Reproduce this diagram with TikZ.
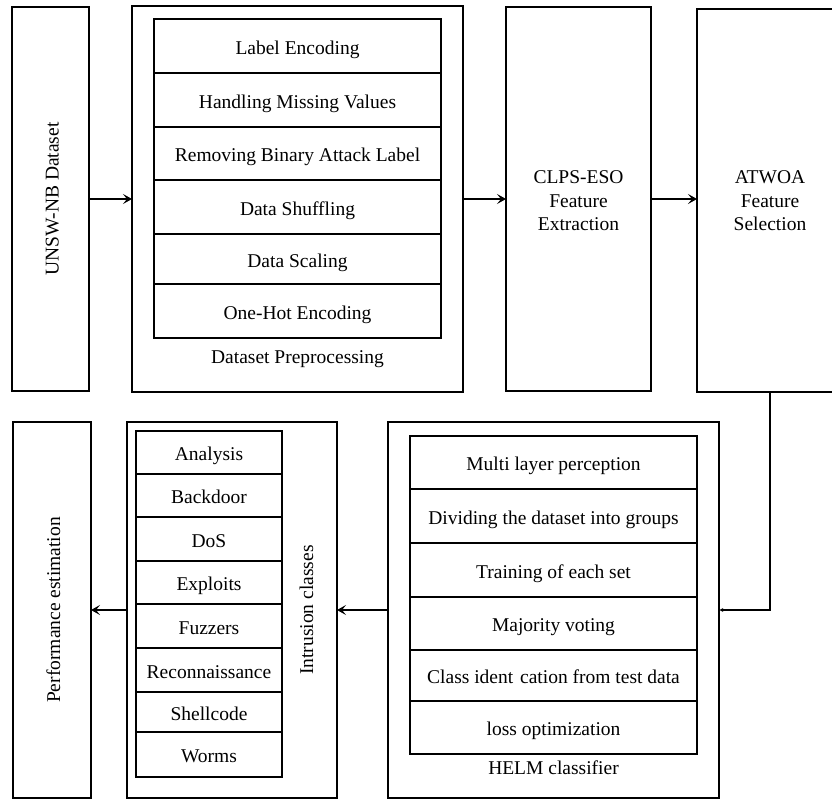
\documentclass[tikz,border=0pt]{standalone}
\usepackage{fontspec}
\setmainfont{Liberation Serif}
\usetikzlibrary{arrows.meta}
\begin{document}
\begin{tikzpicture}[x=1pt,y=-1pt,
  every node/.style={font=\fontsize{19.5}{23.5}\selectfont, inner sep=0pt, outer sep=0pt},
  box/.style={draw, line width=1.4pt, anchor=north west},
  txt/.style={text height=17pt, text depth=1pt},
  cell/.style={draw, line width=1.7pt, txt},
  arr/.style={line width=1.4pt, -{Stealth[length=9pt,width=10pt,inset=4pt]}},
  smallarr/.style={line width=1.4pt, -{Latex[length=4pt,width=4pt]}}]
\useasboundingbox (0,0) rectangle (832,798);
\clip (0,0) rectangle (832,798);

% ---- top row ----
\node[box, minimum width=77, minimum height=384] (unsw) at (12,7) {};
\node[rotate=90, txt] (unswtxt) at (unsw.center) {UNSW-NB Dataset};

\node[box, minimum width=331, minimum height=386] (prep) at (132,6) {};
\node[cell, minimum width=287, minimum height=54] (p1) at (297.5,46) {Label Encoding};
\node[cell, minimum width=287, minimum height=54] (p2) at (297.5,100) {Handling Missing Values};
\node[cell, minimum width=287, minimum height=53] (p3) at (297.5,153.5) {Removing Binary Attack Label};
\node[cell, minimum width=287, minimum height=54] (p4) at (297.5,207) {Data Shuffling};
\node[cell, minimum width=287, minimum height=50] (p5) at (297.5,259) {Data Scaling};
\node[cell, minimum width=287, minimum height=54] (p6) at (297.5,311) {One-Hot Encoding};
\node[txt] (preplabel) at (297.5,355) {Dataset Preprocessing};

\node[box, minimum width=145, minimum height=384] (clps) at (506,7) {};
\node[align=center] (clpstxt) at (578.5,201) {CLPS-ESO\\Feature\\Extraction};

\node[box, minimum width=146, minimum height=383] (atwoa) at (697,9) {};
\node[align=center] (atwoatxt) at (770,201) {ATWOA\\Feature\\Selection};

% ---- bottom row ----
\node[box, minimum width=78, minimum height=376] (perf) at (13,422) {};
\node[rotate=90, txt] (perftxt) at (perf.center) {Performance estimation};

\node[box, minimum width=210, minimum height=376] (intr) at (127,422) {};
\node[cell, minimum width=146, minimum height=43] (c1) at (209,452.5) {Analysis};
\node[cell, minimum width=146, minimum height=43] (c2) at (209,495.5) {Backdoor};
\node[cell, minimum width=146, minimum height=44] (c3) at (209,539) {DoS};
\node[cell, minimum width=146, minimum height=43] (c4) at (209,582.5) {Exploits};
\node[cell, minimum width=146, minimum height=44] (c5) at (209,626) {Fuzzers};
\node[cell, minimum width=146, minimum height=44] (c6) at (209,670) {Reconnaissance};
\node[cell, minimum width=146, minimum height=40] (c7) at (209,712) {Shellcode};
\node[cell, minimum width=146, minimum height=45] (c8) at (209,754.5) {Worms};
\node[rotate=90, txt] (intrtxt) at (305,610) {Intrusion classes};

\node[box, minimum width=331, minimum height=376] (helm) at (388,422) {};
\node[cell, minimum width=287, minimum height=53] (h1) at (553.5,462.5) {Multi layer perception};
\node[cell, minimum width=287, minimum height=54] (h2) at (553.5,516) {Dividing the dataset into groups};
\node[cell, minimum width=287, minimum height=54] (h3) at (553.5,570) {Training of each set};
\node[cell, minimum width=287, minimum height=53] (h4) at (553.5,623.5) {Majority voting};
\node[cell, minimum width=287, minimum height=51] (h5) at (553.5,675.5) {Class ident\hspace{0.35em}cation from test data};
\node[cell, minimum width=287, minimum height=53] (h6) at (553.5,727.5) {loss optimization};
\node[txt] (helmlabel) at (553.5,766) {HELM classifier};

% ---- connectors ----
\draw[arr] (unsw.east) -- (prep.west);
\draw[arr] (prep.east) -- (prep.east -| clps.west);
\draw[arr] (clps.east) -- (clps.east -| atwoa.west);
\draw[smallarr] (atwoa.south) |- (helm.east);
\draw[arr] (helm.west) -- (intr.east);
\draw[arr] (intr.west) -- (perf.east);
\end{tikzpicture}
\end{document}
